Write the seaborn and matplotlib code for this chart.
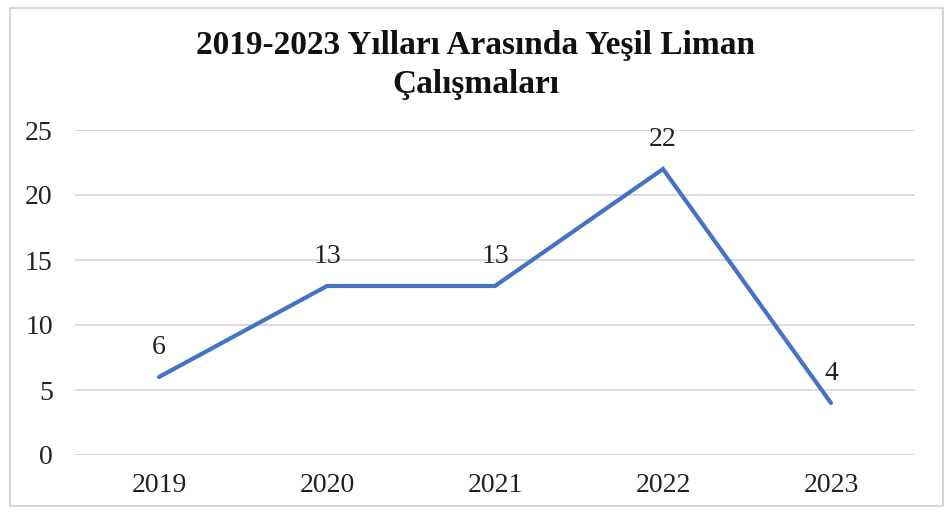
import matplotlib
matplotlib.use("Agg")
import matplotlib.pyplot as plt
import seaborn as sns
import pandas as pd
from matplotlib.patches import Rectangle

years = [2019, 2020, 2021, 2022, 2023]
counts = [6, 13, 13, 22, 4]
yticks = [0, 5, 10, 15, 20, 25]
title = "2019-2023 Yılları Arasında Yeşil Liman\nÇalışmaları"

sns.set_style("white")
plt.rcParams["font.family"] = ["Liberation Serif", "DejaVu Serif"]

df = pd.DataFrame({"Yıl": years, "Sayı": counts})

fig = plt.figure(figsize=(9.52, 5.14), dpi=100)
ax = fig.add_axes([75 / 952, 1 - 455 / 514, 840 / 952, 325 / 514])

sns.lineplot(data=df, x="Yıl", y="Sayı", ax=ax, color="#4472C4", linewidth=3.0,
             solid_joinstyle="miter", zorder=3)

for x, y in zip(years, counts):
    ax.annotate(str(y), (x, y), xytext=(0, 21), textcoords="offset points",
                ha="center", va="center", fontsize=20, color="#222222")

ax.set_xlim(years[0] - 0.5, years[-1] + 0.5)
ax.set_ylim(0, 25)
ax.set_xticks(years)
ax.set_xticklabels([str(y) for y in years])
ax.set_yticks(yticks)
ax.set_yticklabels([str(t) for t in yticks])
ax.tick_params(axis="both", length=0, labelsize=20, colors="#222222")
ax.tick_params(axis="y", pad=16)
ax.tick_params(axis="x", pad=13)
ax.grid(axis="y", color="#d9d9d9", linewidth=1.3)
ax.grid(axis="x", visible=False)
for s in ax.spines.values():
    s.set_visible(False)
ax.set_xlabel("")
ax.set_ylabel("")

fig.text(0.5, 1 - 65 / 514, title, ha="center", va="center", fontsize=24,
         fontweight="bold", color="#111111", linespacing=1.3)

fig.patches.append(Rectangle((10 / 952, 8 / 514), 933 / 952, 498 / 514,
                             transform=fig.transFigure, fill=False,
                             edgecolor="#d0d0d0", linewidth=1.2))

fig.savefig("out.png", dpi=100)
